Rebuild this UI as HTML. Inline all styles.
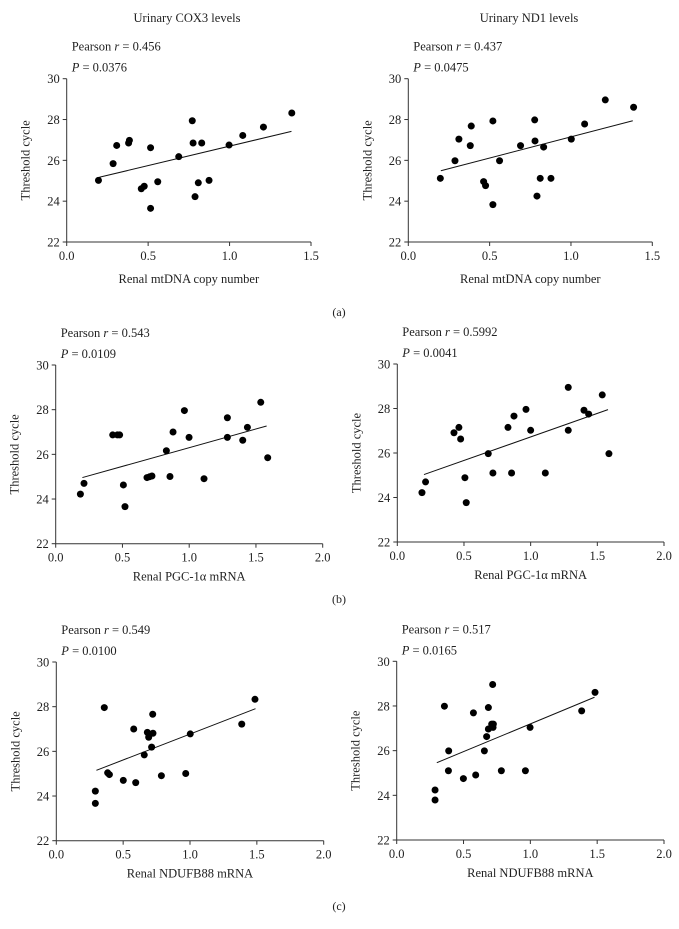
<!DOCTYPE html>
<html><head><meta charset="utf-8">
<style>
html,body{margin:0;padding:0;background:#fff;}
svg{display:block;font-family:"Liberation Serif",serif;}
</style></head>
<body>
<svg id="fig" width="679" height="929" viewBox="0 0 679 929">
<text x="187" y="22" text-anchor="middle" font-size="12.5" fill="#222">Urinary COX3 levels</text>
<text x="529" y="22" text-anchor="middle" font-size="12.5" fill="#222">Urinary ND1 levels</text>
<text x="339" y="316" text-anchor="middle" font-size="12" fill="#222">(a)</text>
<text x="339" y="603" text-anchor="middle" font-size="12" fill="#222">(b)</text>
<text x="339" y="910" text-anchor="middle" font-size="12" fill="#222">(c)</text>
</svg>
<script>
// Panel a-left: COX3 vs mtDNA
const aLeftX = [0.195,0.285,0.307,0.38,0.385,0.458,0.476,0.515,0.515,0.559,0.688,0.771,0.776,0.788,0.808,0.829,0.874,0.997,1.081,1.208,1.382];
const aLeftY = [25.02,25.84,26.73,26.85,26.98,24.61,24.73,23.65,26.62,24.95,26.18,27.94,26.85,24.22,24.9,26.85,25.02,26.75,27.22,27.63,28.32];
const aLeftFit = [[0.2,25.17],[1.38,27.42]];
// Panel a-right: ND1 vs mtDNA
const aRightX = [0.197,0.287,0.311,0.381,0.387,0.463,0.475,0.52,0.52,0.561,0.69,0.777,0.779,0.791,0.811,0.832,0.877,1.002,1.084,1.211,1.385];
const aRightY = [25.12,25.98,27.04,26.72,27.68,24.96,24.76,27.93,23.83,25.98,26.72,27.98,26.95,24.25,25.12,26.65,25.12,27.04,27.78,28.96,28.6];
const aRightFit = [[0.2,25.49],[1.38,27.94]];
// Panel b-left: COX3 vs PGC-1a
const bLeftX = [0.185,0.212,0.427,0.462,0.479,0.507,0.519,0.684,0.704,0.721,0.829,0.856,0.879,0.964,0.999,1.111,1.286,1.286,1.401,1.436,1.536,1.588];
const bLeftY = [24.22,24.7,26.87,26.87,26.87,24.63,23.66,24.96,25.0,25.03,26.16,25.01,27.0,27.96,26.76,24.91,27.64,26.76,26.63,27.21,28.33,25.85];
const bLeftFit = [[0.2,24.96],[1.58,27.27]];
// Panel b-right: ND1 vs PGC-1a
const bRightX = [0.185,0.212,0.425,0.462,0.475,0.507,0.517,0.682,0.717,0.83,0.857,0.875,0.965,1.0,1.11,1.282,1.282,1.4,1.435,1.537,1.587];
const bRightY = [24.22,24.7,26.91,27.15,26.63,24.89,23.77,25.97,25.1,27.15,25.1,27.66,27.96,27.02,25.1,28.95,27.02,27.92,27.75,28.61,25.97];
const bRightFit = [[0.2,25.03],[1.58,27.95]];
// Panel c-left: COX3 vs NDUFB8
const cLeftX = [0.292,0.292,0.359,0.384,0.397,0.501,0.579,0.594,0.658,0.681,0.691,0.713,0.721,0.723,0.786,0.968,1.002,1.387,1.486];
const cLeftY = [24.22,23.67,27.96,25.04,24.96,24.7,27.0,24.6,25.84,26.85,26.63,26.19,27.66,26.81,24.91,25.01,26.78,27.22,28.33];
const cLeftFit = [[0.3,25.15],[1.49,27.91]];
// Panel c-right: ND1 vs NDUFB8
const cRightX = [0.287,0.287,0.357,0.387,0.389,0.499,0.574,0.591,0.656,0.673,0.686,0.686,0.711,0.718,0.721,0.723,0.783,0.963,0.998,1.384,1.484];
const cRightY = [24.24,23.79,27.99,25.1,25.99,24.75,27.69,24.91,25.99,26.63,27.93,26.97,27.19,28.96,27.04,27.19,25.1,25.1,27.04,27.78,28.61];
const cRightFit = [[0.3,25.46],[1.48,28.39]];

const yTicks = [22,24,26,28,30];
const xTicksA = ["0.0","0.5","1.0","1.5"];
const xTicksBC = ["0.0","0.5","1.0","1.5","2.0"];
const statsR = ["0.456","0.437","0.543","0.5992","0.549","0.517"];
const statsP = ["0.0376","0.0475","0.0109","0.0041","0.0100","0.0165"];
const xTitles = ["Renal mtDNA copy number","Renal mtDNA copy number","Renal PGC-1\u03b1 mRNA","Renal PGC-1\u03b1 mRNA","Renal NDUFB88 mRNA","Renal NDUFB88 mRNA"];

const NS = "http://www.w3.org/2000/svg";
const svg = document.getElementById("fig");
function mk(tag, attrs, parent){
  const e = document.createElementNS(NS, tag);
  for (const k in attrs) e.setAttribute(k, attrs[k]);
  (parent||svg).appendChild(e);
  return e;
}
const panels = [
  {id:"a-left", x0:66.7, x1:311, xmax:1.5, yt:78.7, yb:242, ticks:xTicksA, xs:aLeftX, ys:aLeftY, fit:aLeftFit, tOff:41},
  {id:"a-right", x0:408.3, x1:652.3, xmax:1.5, yt:78.7, yb:242, ticks:xTicksA, xs:aRightX, ys:aRightY, fit:aRightFit, tOff:41},
  {id:"b-left", x0:55.7, x1:322.7, xmax:2.0, yt:365, yb:543.7, ticks:xTicksBC, xs:bLeftX, ys:bLeftY, fit:bLeftFit, tOff:37},
  {id:"b-right", x0:397.3, x1:664, xmax:2.0, yt:364, yb:542, ticks:xTicksBC, xs:bRightX, ys:bRightY, fit:bRightFit, tOff:37},
  {id:"c-left", x0:56.3, x1:323.7, xmax:2.0, yt:662, yb:840.7, ticks:xTicksBC, xs:cLeftX, ys:cLeftY, fit:cLeftFit, tOff:37},
  {id:"c-right", x0:396.7, x1:664, xmax:2.0, yt:661.3, yb:840, ticks:xTicksBC, xs:cRightX, ys:cRightY, fit:cRightFit, tOff:37}
];
panels.forEach((p, i) => {
  const g = mk("g", {});
  
  
  const sx = v => p.x0 + v / p.xmax * (p.x1 - p.x0);
  const sy = v => p.yb - (v - 22) / 8 * (p.yb - p.yt);
  const ya = mk("line", {x1:p.x0, y1:p.yt, x2:p.x0, y2:p.yb, stroke:"#333", "stroke-width":1}, g);
  
  
  const xa = mk("line", {x1:p.x0, y1:p.yb, x2:p.x1, y2:p.yb, stroke:"#333", "stroke-width":1}, g);
  
  
  yTicks.forEach(t => {
    const y = sy(t);
    mk("line", {x1:p.x0-4, y1:y, x2:p.x0, y2:y, stroke:"#333"}, g);
    const tx = mk("text", {x:p.x0-7, y:y+4.5, "text-anchor":"end", "font-size":12.5, fill:"#222"}, g);
    tx.textContent = t;
    
    
  });
  p.ticks.forEach(t => {
    const x = sx(parseFloat(t));
    mk("line", {x1:x, y1:p.yb, x2:x, y2:p.yb+4, stroke:"#333"}, g);
    const tx = mk("text", {x:x, y:p.yb+18, "text-anchor":"middle", "font-size":12.5, fill:"#222"}, g);
    tx.textContent = t;
    
    
  });
  const yt = mk("text", {x:0, y:0, "text-anchor":"middle", "font-size":12.5, fill:"#222",
    transform:"translate(" + (p.x0-37) + "," + ((p.yt+p.yb)/2) + ") rotate(-90)"}, g);
  yt.textContent = "Threshold cycle";
  
  
  const xt = mk("text", {x:(p.x0+p.x1)/2, y:p.yb+p.tOff, "text-anchor":"middle", "font-size":12.5, fill:"#222"}, g);
  xt.textContent = xTitles[i];
  
  
  const r = mk("text", {x:p.x0+5, y:p.yt-28, "font-size":12.5, fill:"#222"}, g);
  r.innerHTML = 'Pearson <tspan font-style="italic">r</tspan> = ' + statsR[i];
  
  
  const pp = mk("text", {x:p.x0+5, y:p.yt-7, "font-size":12.5, fill:"#222"}, g);
  pp.innerHTML = '<tspan font-style="italic">P</tspan> = ' + statsP[i];
  
  
  const fl = mk("line", {x1:sx(p.fit[0][0]), y1:sy(p.fit[0][1]), x2:sx(p.fit[1][0]), y2:sy(p.fit[1][1]), stroke:"#111", "stroke-width":1}, g);
  
  
  p.xs.forEach((xv, j) => {
    const c = mk("circle", {cx:sx(xv), cy:sy(p.ys[j]), r:3.5, fill:"#000"}, g);
    
    
  });
});
</script>
</body></html>
